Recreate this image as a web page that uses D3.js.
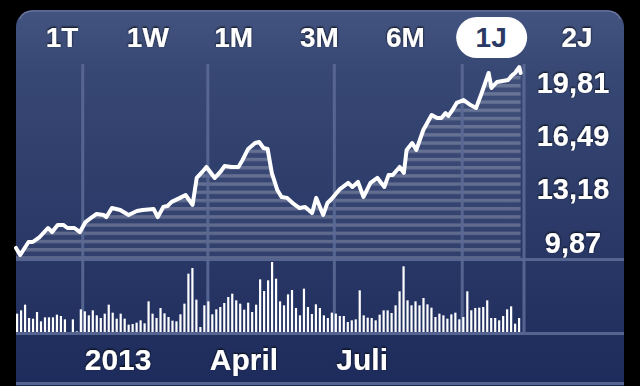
<!DOCTYPE html>
<meta charset="utf-8">
<style>
  body { margin: 0; background: #000; }
  text { font-family: "Liberation Sans", Arial, Helvetica, sans-serif; font-weight: bold; }
</style>
<svg width="640" height="386"></svg>
<script src="https://cdn.jsdelivr.net/npm/d3@7"></script>
<script>

// range buttons
var tabs = ["1T", "1W", "1M", "3M", "6M", "1J", "2J"];
var activeTab = "1J";

// closing price, days after 14 Nov 2012
var days = [0, 3, 9, 12, 17, 23, 26, 30, 34, 37, 42, 46, 50, 53, 58, 63, 65, 69, 75, 81,
  87, 91, 99, 102, 106, 109, 112, 118, 122, 127, 130, 134, 137, 143, 147, 150, 155, 160, 163, 167,
  172, 175, 178, 181, 184, 188, 191, 195, 199, 204, 208, 213, 216, 221, 224, 227, 233, 239, 242, 246,
  250, 255, 260, 265, 268, 271, 276, 279, 281, 285, 288, 293, 299, 303, 306, 309, 311, 314, 317, 322,
  327, 331, 335, 340, 342, 346, 350, 354, 357, 359, 362, 363];
var prices = [9.50, 9.06, 9.87, 9.87, 10.18, 10.74, 10.49, 10.93, 10.93, 10.74, 10.74, 10.49, 11.11, 11.30, 11.61, 11.55, 11.42, 11.98, 11.86, 11.55,
  11.80, 11.86, 11.92, 11.42, 12.05, 12.11, 12.36, 12.61, 12.79, 12.17, 13.85, 14.22, 14.53, 13.85, 14.22, 14.59, 14.53, 14.53, 14.97, 15.65,
  16.02, 16.08, 15.71, 15.65, 14.16, 13.10, 12.67, 12.61, 12.29, 11.98, 12.05, 11.67, 12.61, 11.55, 12.29, 12.54, 13.16, 13.54, 13.29, 13.60,
  12.67, 13.54, 13.85, 13.29, 14.03, 14.03, 14.53, 14.16, 15.59, 16.02, 15.59, 16.83, 17.76, 17.57, 17.57, 17.88, 17.70, 18.07, 18.51, 18.69,
  18.38, 18.20, 19.13, 20.37, 19.44, 19.81, 19.87, 19.93, 20.24, 20.37, 20.74, 20.37];

// volume (millions)
var volumes = [55, 65, 82, 42, 40, 60, 32, 44, 44, 44, 52, 48, 38, 0, 38, 2, 68, 62, 50, 65,
  50, 42, 55, 82, 58, 40, 55, 40, 22, 24, 28, 35, 26, 92, 55, 42, 72, 56, 45, 34,
  32, 53, 85, 175, 192, 97, 15, 80, 92, 53, 68, 75, 87, 105, 115, 95, 85, 67, 88, 60,
  82, 158, 123, 155, 210, 160, 92, 80, 113, 126, 72, 50, 130, 75, 54, 83, 72, 50, 42, 58,
  55, 48, 48, 30, 35, 38, 125, 50, 43, 42, 35, 52, 65, 65, 57, 80, 122, 197, 95, 80,
  92, 80, 102, 83, 73, 45, 55, 50, 40, 53, 58, 38, 45, 122, 65, 72, 73, 75, 95, 42,
  42, 35, 48, 68, 77, 25, 42];

var priceTicks = [9.87, 13.18, 16.49, 19.81];
var gridDates = ["2013-01-01", "2013-04-01", "2013-07-01", "2013-10-01", "2013-11-15"];
var gridLabels = ["2013", "April", "Juli", "", ""];

var svg = d3.select("svg");
var defs = svg.append("defs");

var bg = defs.append("linearGradient").attr("id", "bg")
    .attr("x1", 0).attr("y1", 0).attr("x2", 0).attr("y2", 1);
bg.append("stop").attr("offset", "0%").attr("stop-color", "#445480");
bg.append("stop").attr("offset", "15%").attr("stop-color", "#384874");
bg.append("stop").attr("offset", "100%").attr("stop-color", "#1b295a");

var stripes = defs.append("pattern").attr("id", "stripes")
    .attr("patternUnits", "userSpaceOnUse")
    .attr("width", 8).attr("height", 8.2).attr("y", 2);
stripes.append("rect").attr("width", 8).attr("height", 8.2).attr("fill", "#ffffff").attr("opacity", 0.04);
stripes.append("rect").attr("y", 0).attr("width", 8).attr("height", 3.4).attr("fill", "#ffffff").attr("opacity", 0.22);

var shadow = defs.append("filter").attr("id", "shadow")
    .attr("x", "-20%").attr("y", "-20%").attr("width", "140%").attr("height", "140%");
shadow.append("feDropShadow").attr("dx", 0).attr("dy", -1).attr("stdDeviation", 0.8)
    .attr("flood-color", "#000").attr("flood-opacity", 0.9);

// panel
svg.append("rect")
    .attr("x", 16).attr("y", 10).attr("width", 608).attr("height", 400).attr("rx", 17)
    .attr("fill", "url(#bg)");
svg.append("path")
    .attr("d", "M20,19 Q22,11 34,11 L606,11 Q618,11 620,19")
    .attr("fill", "none").attr("stroke", "#7a86aa").attr("stroke-width", 1.2).attr("opacity", 0.8);

var start = new Date(2012, 10, 14);
var end = new Date(2013, 10, 13);
var x = d3.scaleTime().domain([start, end]).range([16, 522]);
var y = d3.scaleLinear().domain([9.87, 19.81]).range([242, 82]);
var xv = d3.scaleLinear().domain([0, volumes.length - 1]).range([17, 519]);
var yv = d3.scaleLinear().domain([0, 210]).range([332, 262]);

var parse = d3.timeParse("%Y-%m-%d");
var series = days.map(function(d, i) { return { date: d3.timeDay.offset(start, d), v: prices[i] }; });

var plotBottom = 258;
var gridColor = "#5a6a95";

// area with stripes
svg.append("path")
    .datum(series)
    .attr("fill", "url(#stripes)")
    .attr("d", d3.area().x(function(d) { return x(d.date); }).y0(plotBottom).y1(function(d) { return y(d.v); }));

// vertical grid lines
var gx = gridDates.map(function(d) { return parse(d); });
svg.selectAll(".vgrid").data(gx).enter().append("line")
    .attr("class", "vgrid")
    .attr("x1", function(d) { return Math.min(x(d), 524); })
    .attr("x2", function(d) { return Math.min(x(d), 524); })
    .attr("y1", 64).attr("y2", 332)
    .attr("stroke", gridColor).attr("stroke-width", 3).attr("opacity", 0.9);

// horizontal separators
[259.5, 333.5, 383.5].forEach(function(h) {
  svg.append("line").attr("x1", 16).attr("x2", 624).attr("y1", h).attr("y2", h)
      .attr("stroke", gridColor).attr("stroke-width", 3).attr("opacity", 0.9);
});

// price line
svg.append("path")
    .datum(series)
    .attr("fill", "none")
    .attr("stroke", "#fff")
    .attr("stroke-width", 4)
    .attr("stroke-linejoin", "round")
    .attr("stroke-linecap", "round")
    .attr("d", d3.line().x(function(d) { return x(d.date); }).y(function(d) { return y(d.v); }));

// volume bars
svg.selectAll(".vol").data(volumes).enter().append("rect")
    .attr("class", "vol")
    .attr("x", function(d, i) { return xv(i) - 1; })
    .attr("width", 2.2)
    .attr("y", function(d) { return yv(d); })
    .attr("height", function(d) { return yv(0) - yv(d); })
    .attr("fill", "#fff");

// price labels
var fmt = d3.formatLocale({ decimal: ",", thousands: ".", grouping: [3], currency: ["", "€"] }).format(".2f");
svg.selectAll(".plabel").data(priceTicks).enter().append("text")
    .attr("class", "plabel")
    .attr("x", 573)
    .attr("y", function(d) { return y(d) + 10.5; })
    .attr("text-anchor", "middle")
    .attr("font-size", 29)
    .attr("fill", "#fff")
    .attr("filter", "url(#shadow)")
    .text(function(d) { return fmt(d); });

// date labels
svg.selectAll(".dlabel").data(gx).enter().append("text")
    .attr("class", "dlabel")
    .attr("x", function(d) { return x(d) + 2; })
    .attr("y", 370)
    .attr("font-size", 30)
    .attr("fill", "#fff")
    .attr("filter", "url(#shadow)")
    .text(function(d, i) { return gridLabels[i]; });

// tabs
var tx = d3.scalePoint().domain(tabs).range([62, 577]);
svg.append("rect")
    .attr("x", tx(activeTab) - 35).attr("y", 17).attr("width", 71).attr("height", 41).attr("rx", 20.5)
    .attr("fill", "#fff");
svg.selectAll(".tab").data(tabs).enter().append("text")
    .attr("class", "tab")
    .attr("x", function(d) { return tx(d); })
    .attr("y", 47)
    .attr("text-anchor", "middle")
    .attr("font-size", 28)
    .attr("fill", function(d) { return d === activeTab ? "#2b3a64" : "#fff"; })
    .attr("filter", function(d) { return d === activeTab ? null : "url(#shadow)"; })
    .text(function(d) { return d; });

</script>
